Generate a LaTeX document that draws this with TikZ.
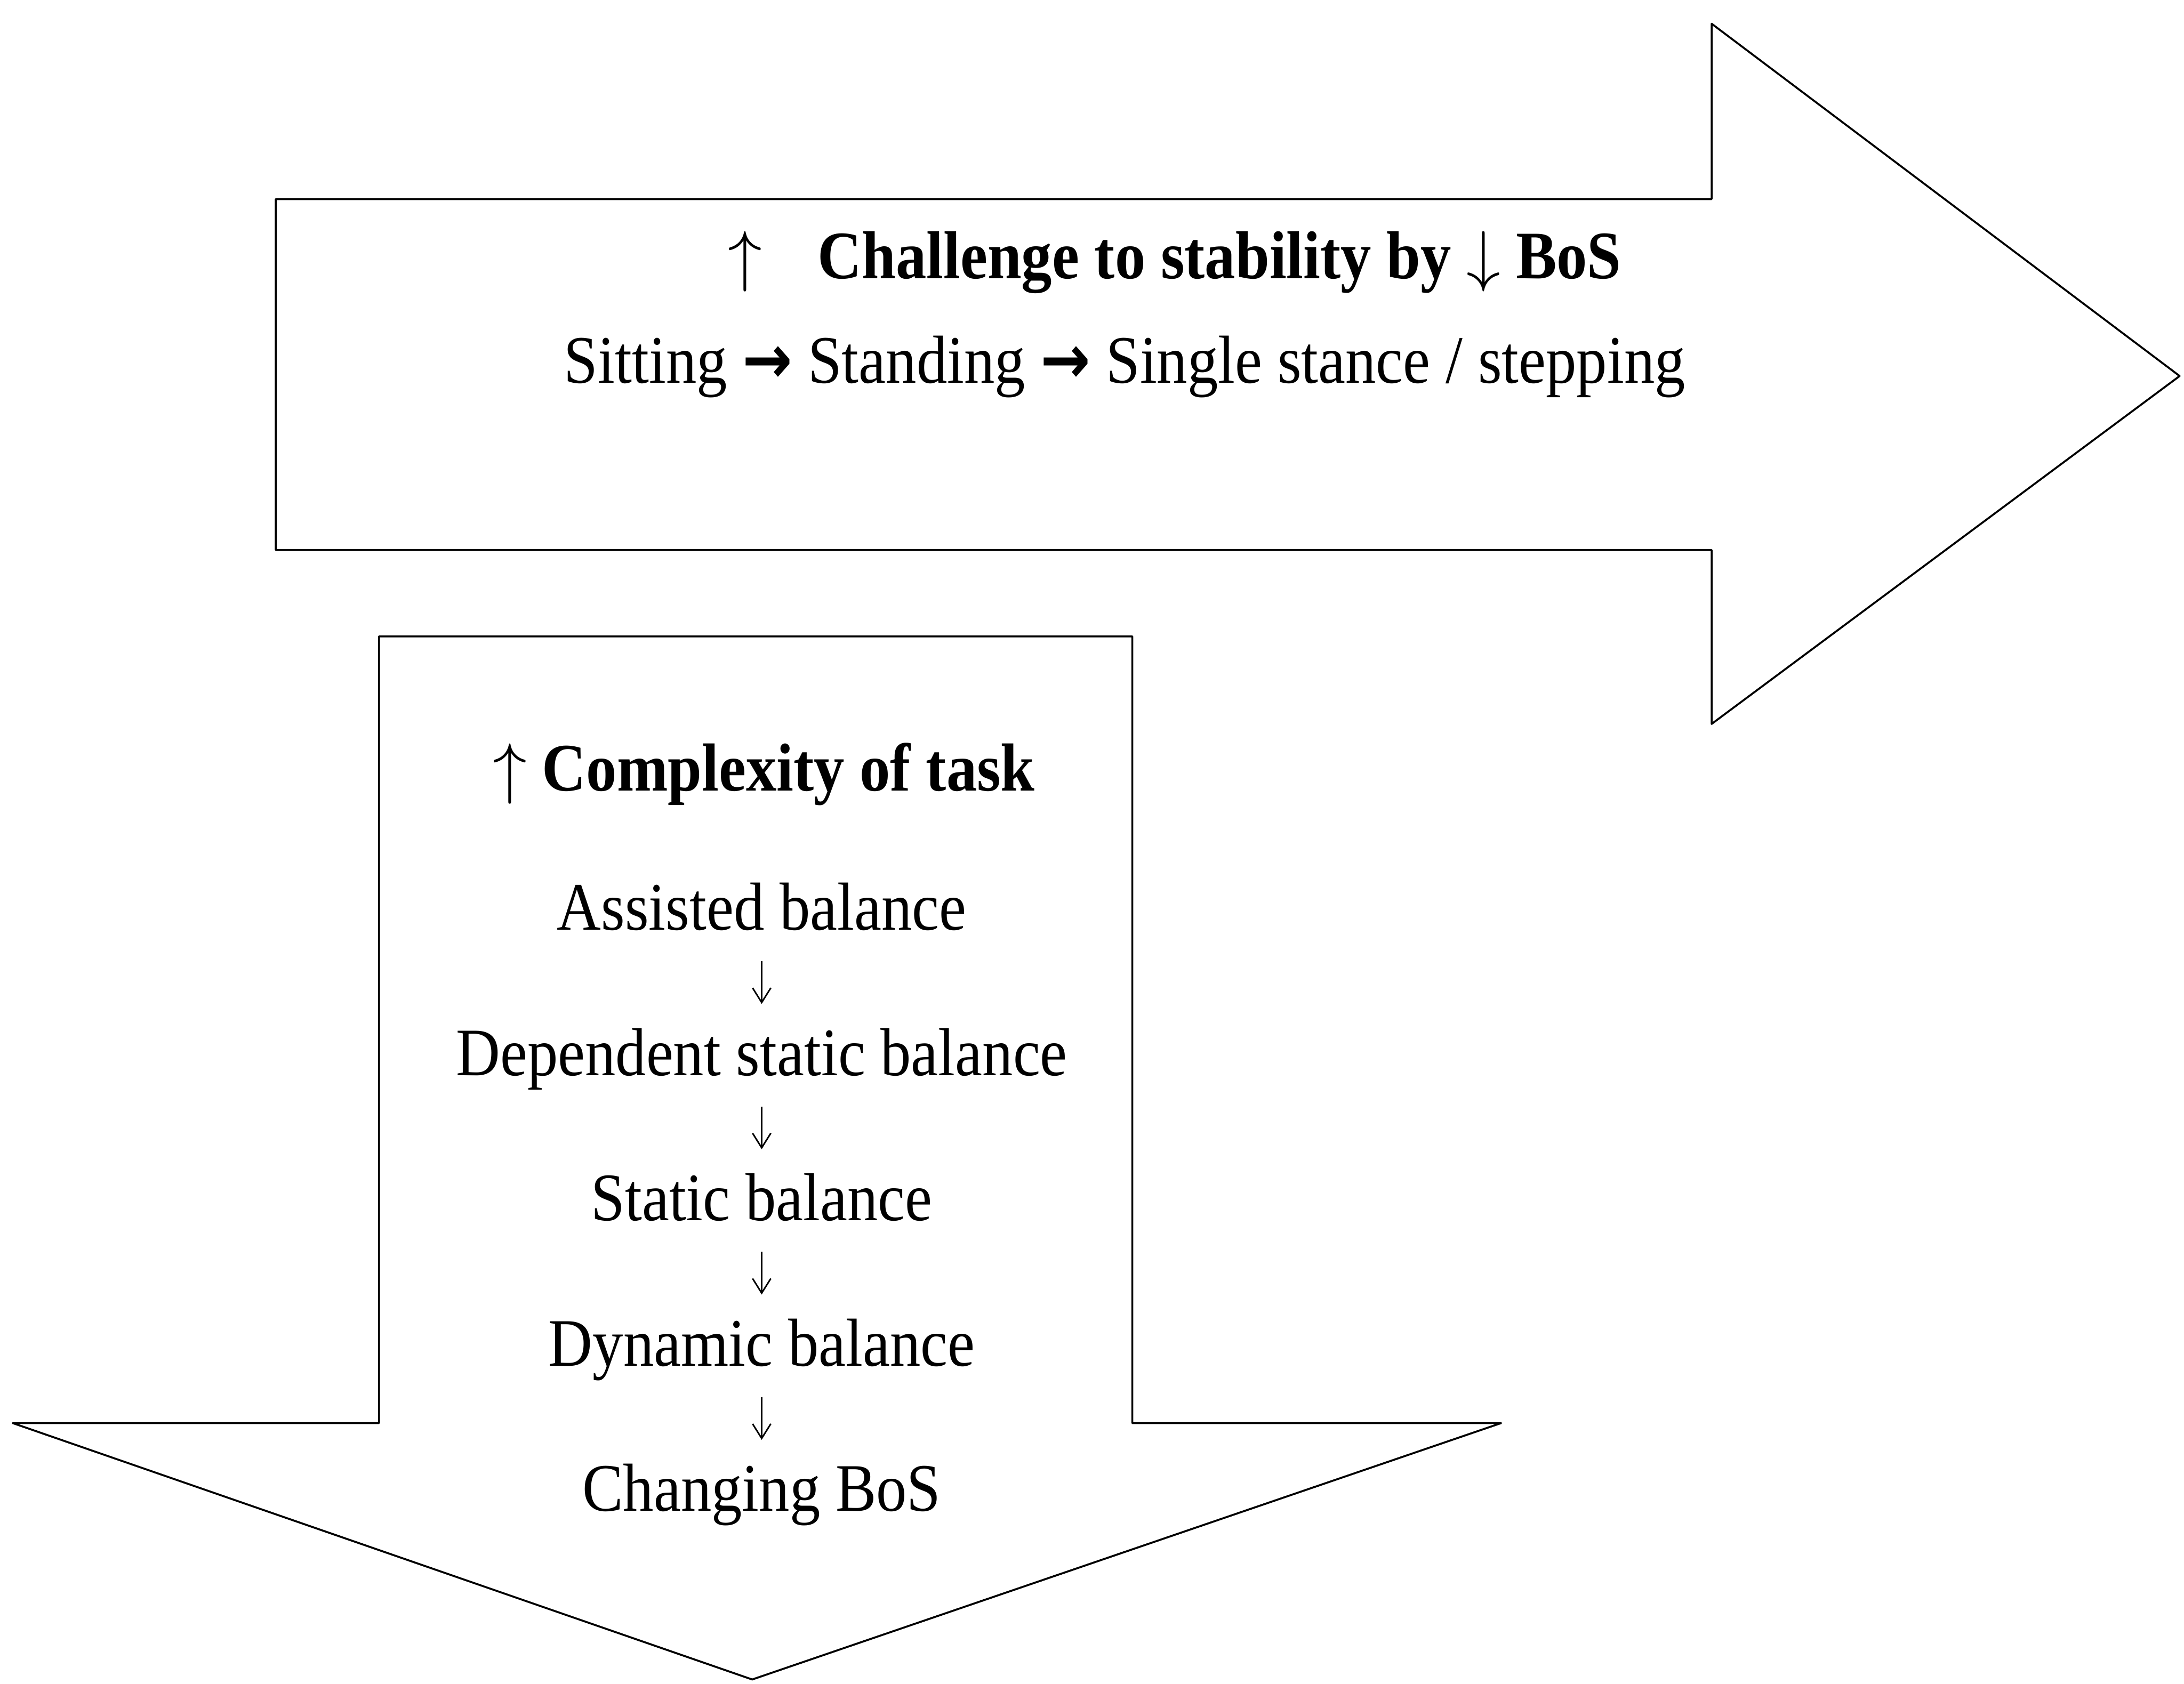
\RequirePackage{fix-cm}
\documentclass[tikz,border=0pt]{standalone}
\usepackage{fontspec}
\setmainfont{Liberation Serif}[FakeStretch=0.9]
\newfontfamily\arrowfont{DejaVu Sans}[FakeStretch=0.88]
\usetikzlibrary{arrows.meta,positioning}

\begin{document}
\begin{tikzpicture}[%
  node distance=1.17cm,
  outline/.style={draw, line width=1.5pt, line join=round},
  heading/.style={anchor=base, inner sep=0pt, font=\fontsize{53}{60}\selectfont\bfseries},
  sequence/.style={anchor=base, inner sep=0pt, font=\fontsize{53}{60}\selectfont},
  stage/.style={inner sep=0pt, text height=1.95cm, text depth=0.85cm,
    font=\fontsize{53}{60}\selectfont},
  flow/.style={line width=1.2pt, -{Straight Barb[length=0.4cm,width=0.5cm]}}]
  \useasboundingbox (0,0) rectangle (59.87,-46.16);
  \draw[outline] (7.56,-5.46) -- (46.92,-5.46) -- (46.92,-0.65) -- (59.75,-10.31)
    -- (46.92,-19.85) -- (46.92,-15.08) -- (7.56,-15.08) -- cycle;
  \draw[outline] (10.39,-17.45) -- (31.04,-17.45) -- (31.04,-39.02) -- (41.15,-39.02)
    -- (20.62,-46.05) -- (0.35,-39.02) -- (10.39,-39.02) -- cycle;
  \node[heading, anchor=base west] (stability) at (19.95,-7.64)
    {$\uparrow$\hspace{0.82em}Challenge to stability by $\downarrow$ BoS};
  \node[sequence] (stances) at (30.83,-10.50)
    {Sitting {\arrowfont\bfseries →} Standing {\arrowfont\bfseries →} Single stance / stepping};
  \node[heading] (complexity) at (20.94,-21.69) {$\uparrow$ Complexity of task};
  \node[stage, anchor=base] (assisted) at (20.88,-25.50) {Assisted balance};
  \node[stage, below=of assisted] (dependent) {Dependent static balance};
  \node[stage, below=of dependent] (static) {Static balance};
  \node[stage, below=of static] (dynamic) {Dynamic balance};
  \node[stage, below=of dynamic] (changing) {Changing BoS};
  \draw[flow] (assisted) -- (dependent);
  \draw[flow] (dependent) -- (static);
  \draw[flow] (static) -- (dynamic);
  \draw[flow] (dynamic) -- (changing);
\end{tikzpicture}
\end{document}
